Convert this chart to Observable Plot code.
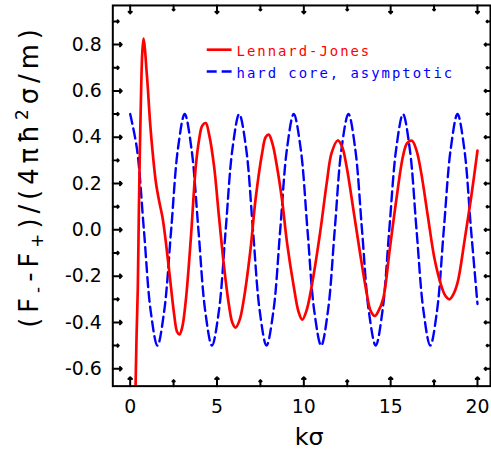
<!DOCTYPE html>
<html><head><meta charset="utf-8">
<script src="https://cdn.jsdelivr.net/npm/d3@7"></script>
<script src="https://cdn.jsdelivr.net/npm/@observablehq/plot@0.6"></script>
<style>body{margin:0;overflow:hidden;background:#fff}</style>
</head><body><div id="chart"></div>
<script>
// Lennard-Jones curve
const redK = [0.28,0.37,0.44,0.50,0.56,0.63,0.70,0.77,0.85,0.93,1.01,1.15,1.30,1.49,1.68,1.87,2.05,2.25,2.54,2.70,2.84,3.00,3.21,3.49,3.78,3.97,4.15,4.35,4.55,4.83,5.11,5.40,5.69,5.88,6.07,6.30,6.55,6.93,7.22,7.60,7.80,7.98,8.20,8.45,8.74,9.03,9.41,9.70,9.91,10.15,10.46,10.94,11.32,11.60,11.95,12.20,12.46,12.85,13.23,13.61,13.85,14.09,14.30,14.57,14.95,15.33,15.71,15.95,16.23,16.50,16.76,17.14,17.53,17.91,18.15,18.38,18.60,18.86,19.24,19.62,20.00];
const redV = [-0.80,-0.45,-0.25,0.08,0.35,0.60,0.77,0.826,0.78,0.70,0.62,0.46,0.33,0.20,0.12,0.05,-0.05,-0.18,-0.37,-0.44,-0.452,-0.42,-0.30,-0.04,0.275,0.39,0.45,0.461,0.41,0.275,0.06,-0.155,-0.326,-0.40,-0.422,-0.39,-0.297,-0.083,0.132,0.332,0.40,0.411,0.37,0.275,0.132,-0.054,-0.24,-0.355,-0.388,-0.35,-0.24,-0.011,0.203,0.332,0.386,0.36,0.275,0.089,-0.097,-0.269,-0.35,-0.372,-0.35,-0.297,-0.083,0.132,0.318,0.375,0.385,0.34,0.246,0.06,-0.126,-0.24,-0.285,-0.30,-0.28,-0.226,-0.054,0.132,0.342];
// hard core, asymptotic curve
const blueK = [0,0.39,0.79,1.18,1.57,1.96,2.36,2.75,3.14,3.53,3.93,4.32,4.71,5.11,5.50,5.89,6.28,6.68,7.07,7.46,7.85,8.25,8.64,9.03,9.42,9.82,10.21,10.60,11.00,11.39,11.78,12.17,12.57,12.96,13.35,13.74,14.14,14.53,14.92,15.32,15.71,16.10,16.49,16.89,17.28,17.67,18.06,18.46,18.85,19.24,19.63,20.00];
const blueV = [0.5,0.35,0,-0.35,-0.5,-0.35,0,0.35, 0.5,0.35,0,-0.35,-0.5,-0.35,0,0.35, 0.5,0.35,0,-0.35,-0.5,-0.35,0,0.35, 0.5,0.35,0,-0.35,-0.5,-0.35,0,0.35, 0.5,0.35,0,-0.35,-0.5,-0.35,0,0.35, 0.5,0.35,0,-0.35,-0.5,-0.35,0,0.35, 0.5,0.35,0,-0.32];
const xMajor = [0,5,10,15,20];
const xMinor = [2.5,7.5,12.5,17.5];
const yMajor = [-0.6,-0.4,-0.2,0,0.2,0.4,0.6,0.8];
const yMinor = [-0.5,-0.3,-0.1,0.1,0.3,0.5,0.7,0.9];
const seriesNames = ["Lennard-Jones","hard core, asymptotic"];
const xLabel = "kσ";

const red = redK.map((k,i)=>({k, v:redV[i]}));
const blue = blueK.map((k,i)=>({k, v:blueV[i]}));
const tick = (data, opts) => Plot.vector(data, {stroke:"black", strokeWidth:2, anchor:"start", ...opts});

const svg = Plot.plot({
  width:494, height:455, marginLeft:113, marginRight:1, marginTop:5, marginBottom:67,
  style:{fontFamily:"DejaVu Sans", fontSize:"19px", background:"white", color:"black"},
  x:{domain:[-1,20.75]}, y:{domain:[-0.675,0.969]},
  marks:[
    Plot.line(blue, {x:"k", y:"v", stroke:"#0000ff", strokeWidth:2.4, strokeDasharray:"10,5", curve:"catmull-rom", clip:true}),
    Plot.line(red, {x:"k", y:"v", stroke:"#ff0000", strokeWidth:2.7, curve:"catmull-rom", clip:true}),
    Plot.frame({stroke:"black", strokeWidth:2}),
    tick(xMajor, {x:d=>d, frameAnchor:"bottom", rotate:0, length:9}),
    tick(xMinor, {x:d=>d, frameAnchor:"bottom", rotate:0, length:6}),
    tick(xMajor, {x:d=>d, frameAnchor:"top", rotate:180, length:8}),
    tick(xMinor, {x:d=>d, frameAnchor:"top", rotate:180, length:5}),
    tick(yMajor, {y:d=>d, frameAnchor:"left", rotate:90, length:9}),
    tick(yMinor, {y:d=>d, frameAnchor:"left", rotate:90, length:6}),
    tick(yMajor, {y:d=>d, frameAnchor:"right", rotate:-90, length:6}),
    tick(yMinor, {y:d=>d, frameAnchor:"right", rotate:-90, length:4}),
    Plot.axisX({ticks:xMajor, tickSize:0, tickPadding:14, tickFormat:d=>String(d), label:null}),
    Plot.axisY({ticks:yMajor, tickSize:0, tickPadding:11, tickFormat:d=>d.toFixed(1), label:null})
  ]
});
document.getElementById("chart").appendChild(svg);
const s = d3.select(svg);

// legend
const lg = s.append("g").attr("font-family","DejaVu Sans Mono").attr("font-size",14).attr("letter-spacing","2px").attr("text-anchor","start");
lg.append("line").attr("x1",208).attr("x2",233).attr("y1",50).attr("y2",50).attr("stroke","#ff0000").attr("stroke-width",2.7);
lg.append("text").attr("x",238).attr("y",56.5).attr("fill","#ff0000").text(seriesNames[0]);
lg.append("line").attr("x1",208).attr("x2",233).attr("y1",72).attr("y2",72).attr("stroke","#0000ff").attr("stroke-width",2.4).attr("stroke-dasharray","10,5");
lg.append("text").attr("x",238).attr("y",78.5).attr("fill","#0000ff").text(seriesNames[1]);

// x label
s.append("text").attr("x",311).attr("y",448).attr("text-anchor","middle").attr("font-family","DejaVu Sans").attr("font-size",24).text(xLabel);

// y label
const yl = s.append("text").attr("transform","translate(38,177) rotate(-90)").attr("text-anchor","middle")
  .attr("font-family","DejaVu Sans").attr("font-size",26).attr("letter-spacing","5px");
yl.append("tspan").text("(F");
yl.append("tspan").attr("font-size",17).attr("dy",5).text("-");
yl.append("tspan").attr("dy",-5).text("-F");
yl.append("tspan").attr("font-size",17).attr("dy",5).text("+");
yl.append("tspan").attr("dy",-5).text(")/(4πħ");
yl.append("tspan").attr("font-size",17).attr("dy",-10).text("2");
yl.append("tspan").attr("dy",10).text("σ/m)");
</script>
</body></html>
